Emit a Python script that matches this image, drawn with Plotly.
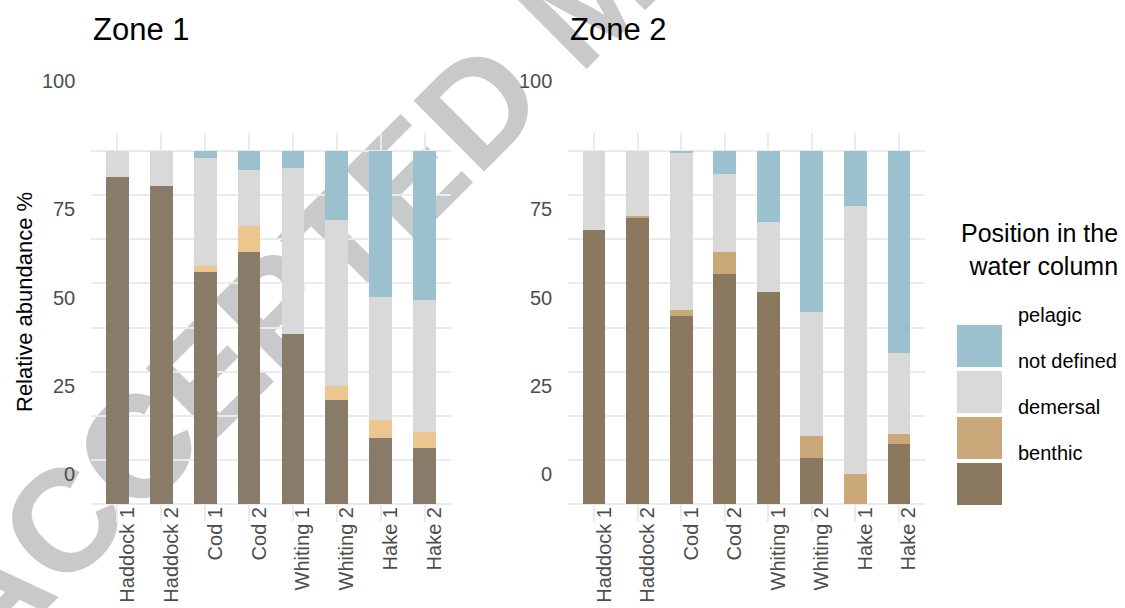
import plotly.graph_objects as go

W, H = 1125, 608

species = ["Haddock 1", "Haddock 2", "Cod 1", "Cod 2",
           "Whiting 1", "Whiting 2", "Hake 1", "Hake 2"]
# stacking order, bottom to top
groups = ["benthic", "demersal", "not defined", "pelagic"]

# relative abundance (%) per position in the water column
zone1_benthic = [92.5, 90.0, 65.7, 71.3, 48.2, 29.5, 18.7, 16.0]
zone1_demersal = [0, 0, 1.7, 7.3, 0, 3.9, 5.1, 4.5]
zone1_notdef = [7.5, 10.0, 30.6, 15.8, 46.9, 46.9, 34.7, 37.3]
zone1_pelagic = [0, 0, 2.0, 5.6, 4.9, 19.7, 41.5, 42.2]

zone2_benthic = [77.5, 81.1, 53.2, 65.1, 60.0, 13.1, 0, 17.1]
zone2_demersal = [0, 0.4, 1.7, 6.2, 0, 6.2, 8.6, 2.8]
zone2_notdef = [22.5, 18.5, 44.4, 22.0, 19.8, 35.0, 75.7, 22.9]
zone2_pelagic = [0, 0, 0.7, 6.7, 20.2, 45.7, 15.7, 57.2]

y_ticks = [0, 25, 50, 75, 100]

zone1 = [zone1_benthic, zone1_demersal, zone1_notdef, zone1_pelagic]
zone2 = [zone2_benthic, zone2_demersal, zone2_notdef, zone2_pelagic]

col1 = ["#887b69", "#edc68f", "#d9d9d9", "#9bc0ce"]
col2 = ["#8a795e", "#cba87a", "#d9d9d9", "#9bc0ce"]

FONT = "Liberation Sans, Arial, sans-serif"

fig = go.Figure()
for vals, colors, xa, ya in [(zone1, col1, "x", "y"), (zone2, col2, "x2", "y2")]:
    for name, v, c in zip(groups, vals, colors):
        fig.add_trace(go.Bar(x=species, y=v, name=name, marker_color=c,
                             marker_line_width=0, width=0.52,
                             xaxis=xa, yaxis=ya, showlegend=False))

ydom = [1 - 522 / H, 1 - 133 / H]
xax = dict(type="category", range=[-0.6, 7.6], showgrid=True,
           gridcolor="#ebebeb", gridwidth=1.5, zeroline=False,
           showline=False, ticks="", tickangle=-90,
           tickfont=dict(size=20, color="#4d4d4d", family=FONT),
           ticklabelshift=10, ticklabelstandoff=-20)
yax = dict(range=[-5, 105], tick0=0, dtick=12.5, showgrid=True,
           gridcolor="#ebebeb", gridwidth=1.5, zeroline=False,
           showticklabels=False, ticks="", domain=ydom)

fig.update_layout(
    width=W, height=H, margin=dict(l=0, r=0, t=0, b=0),
    paper_bgcolor="white", plot_bgcolor="rgba(0,0,0,0)",
    barmode="stack", bargap=0, showlegend=False,
    font=dict(family=FONT),
    xaxis=dict(xax, domain=[91 / W, 451 / W], anchor="y"),
    xaxis2=dict(xax, domain=[568 / W, 925 / W], anchor="y2"),
    yaxis=dict(yax, anchor="x"),
    yaxis2=dict(yax, anchor="x2"),
)

# panel titles
for xr, t in [("x domain", "Zone 1"), ("x2 domain", "Zone 2")]:
    fig.add_annotation(text=t, xref=xr, x=0, xanchor="left", yref="paper",
                       y=1 - 30 / H, yanchor="middle", showarrow=False,
                       font=dict(size=31, color="black"))

# y tick labels (drawn offset from the grid, as in the source figure)
label_shift = [30, 30, 30, 30, 70]
for xr, yr in [("x domain", "y"), ("x2 domain", "y2")]:
    for v, s in zip(y_ticks, label_shift):
        fig.add_annotation(text=str(v), xref=xr, x=0, xanchor="right", xshift=-14,
                           yref=yr, y=v, yshift=s, yanchor="middle", showarrow=False,
                           font=dict(size=20, color="#4d4d4d"))

fig.add_annotation(text="Relative abundance %", textangle=-90, xref="paper",
                   x=24 / W, xanchor="center", yref="paper", y=1 - 302 / H,
                   yanchor="middle", showarrow=False,
                   font=dict(size=22, color="black"))

# legend
fig.add_annotation(text="Position in the<br>water column", align="right",
                   xref="paper", x=1120 / W, xanchor="right", yref="paper",
                   y=1 - 250 / H, yanchor="middle", showarrow=False,
                   font=dict(size=25, color="black"))
key_top, key_h, key_gap = 325, 42, 4
for i, (name, c) in enumerate(zip(groups[::-1], col2[::-1])):
    top = key_top + i * (key_h + key_gap)
    fig.add_shape(type="rect", xref="paper", yref="paper",
                  x0=957 / W, x1=1002 / W, y0=1 - (top + key_h) / H, y1=1 - top / H,
                  fillcolor=c, line_width=0)
    fig.add_annotation(text=name, xref="paper", x=1016 / W, xanchor="left",
                       yref="paper", y=1 - (top + key_h / 2 - 31) / H, yanchor="middle",
                       showarrow=False, font=dict(size=20, color="black"))

# watermark of the manuscript page, behind the bars
cx, cy, half = 580, -15, 600
d = half / 2 ** 0.5
fig.add_shape(type="line", xref="paper", yref="paper", layer="below",
              x0=(cx - d) / W, y0=1 - (cy + d) / H, x1=(cx + d) / W, y1=1 - (cy - d) / H,
              line=dict(width=0, color="rgba(0,0,0,0)"),
              label=dict(text="ACCEPTED MANUSCRIPT", textposition="middle",
                         yanchor="middle",
                         font=dict(size=145, color="#c8c9cb", family=FONT, weight="bold")))

fig.write_html("out.html", config={"displayModeBar": False},
               post_script="document.body.style.margin='0px';")
